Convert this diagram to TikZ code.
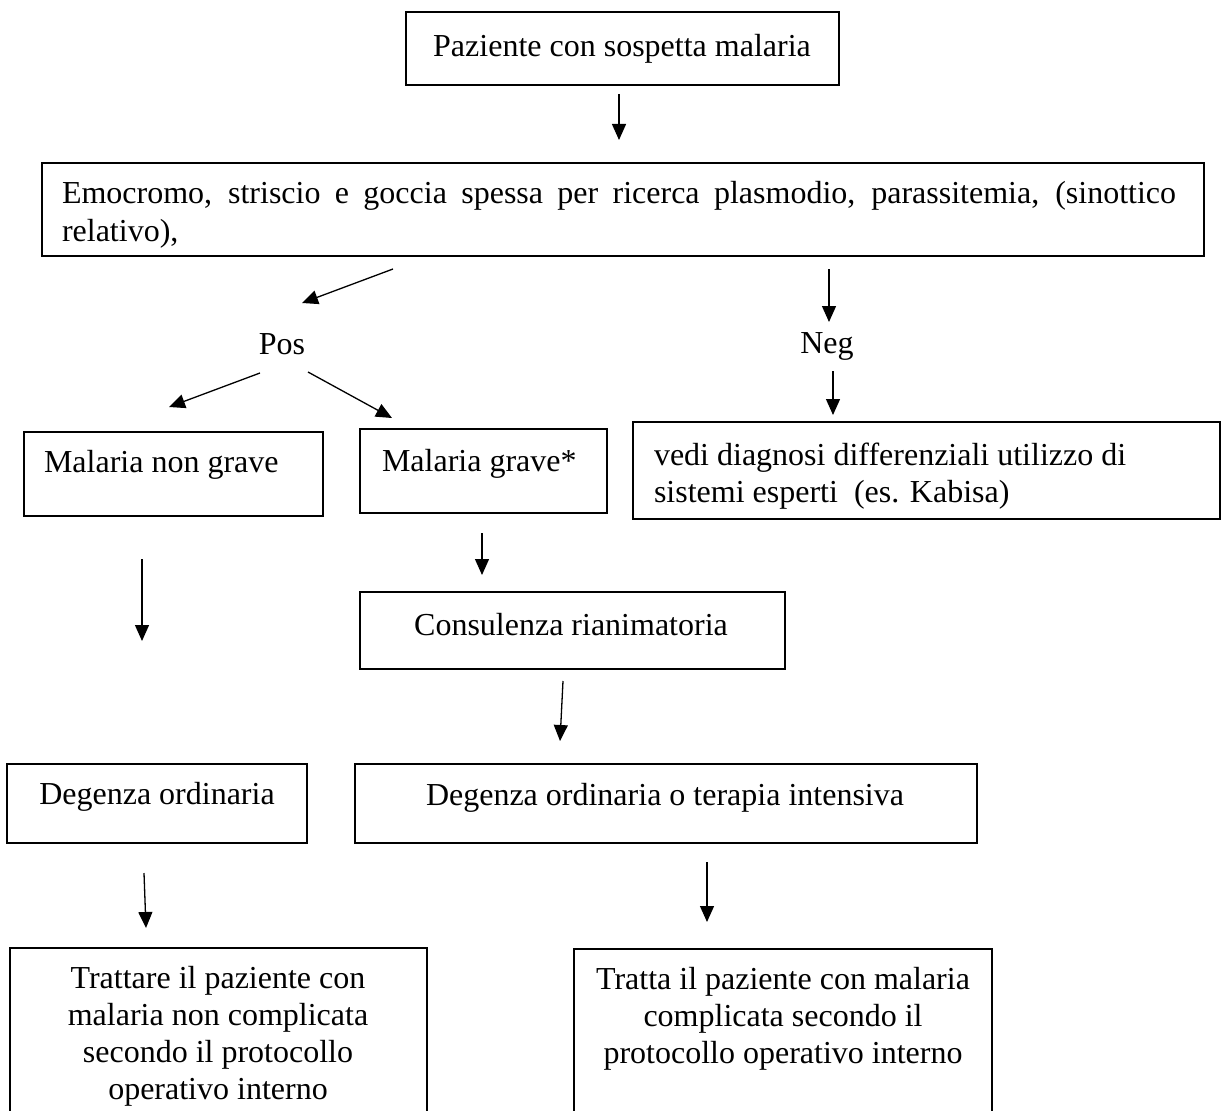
\documentclass[tikz,border=0pt]{standalone}
\usepackage{fontspec}
\setmainfont{Liberation Serif}
\usetikzlibrary{arrows.meta}
\begin{document}
\begin{tikzpicture}[x=1pt,y=-1pt,
  box/.style={draw, line width=1.6pt, inner sep=0pt, outer sep=0pt},
  lbl/.style={inner sep=0pt, outer sep=0pt, font=\fontsize{32}{36.8}\selectfont},
  arr/.style={line width=1.3pt, -{Triangle[length=16pt,width=14pt]}}]
\useasboundingbox (0,0) rectangle (1222,1110);
\fill[white] (0,0) rectangle (1222,1110);
\clip (0,0) rectangle (1222,1110);
% boxes
\node[box, minimum width=433pt, minimum height=73pt] (b1) at (622.5,48.5) {};
\node[box, minimum width=1162pt, minimum height=93pt] (b2) at (623,209.5) {};
\node[box, minimum width=299pt, minimum height=84pt] (bmng) at (173.5,474) {};
\node[box, minimum width=247pt, minimum height=84pt] (bmg) at (483.5,471) {};
\node[box, minimum width=587pt, minimum height=97pt] (bneg) at (926.5,470.5) {};
\node[box, minimum width=425pt, minimum height=77pt] (bcons) at (572.5,630.5) {};
\node[box, minimum width=300pt, minimum height=79pt] (bdor) at (157,803.5) {};
\node[box, minimum width=622pt, minimum height=79pt] (bdot) at (666,803.5) {};
\node[box, minimum width=417pt, minimum height=192pt] (btl) at (218.5,1044) {};
\node[box, minimum width=418pt, minimum height=191pt] (btr) at (783,1044.5) {};
% texts
\node[lbl, anchor=base] (t1) at (622,57) {Paziente con sospetta malaria};
\node[lbl, anchor=base west] (t2a) at (62,204) {\makebox[1114pt][s]{Emocromo, striscio e goccia spessa per ricerca plasmodio, parassitemia, (sinottico}};
\node[lbl, anchor=base west] (t2b) at (62,241) {relativo),};
\node[lbl, anchor=base] (tpos) at (282,354) {Pos};
\node[lbl, anchor=base] (tneg) at (827,353) {Neg};
\node[lbl, anchor=base west] (tmng) at (44,472) {Malaria non grave};
\node[lbl, anchor=base west] (tmg) at (382,471) {Malaria grave*};
\node[lbl, anchor=base west] (tnega) at (654,465) {vedi diagnosi differenziali utilizzo di};
\node[lbl, anchor=base west] (tnegb) at (654,502) {sistemi esperti\ \ (es. Kabisa)};
\node[lbl, anchor=base] (tcons) at (571,635) {Consulenza rianimatoria};
\node[lbl, anchor=base] (tdor) at (157,804) {Degenza ordinaria};
\node[lbl, anchor=base] (tdot) at (665,805) {Degenza ordinaria o terapia intensiva};
\node[lbl, anchor=base] (ttl1) at (218,988) {Trattare il paziente con};
\node[lbl, anchor=base] (ttl2) at (218,1025) {malaria non complicata};
\node[lbl, anchor=base] (ttl3) at (218,1062) {secondo il protocollo};
\node[lbl, anchor=base] (ttl4) at (218,1099) {operativo interno};
\node[lbl, anchor=base] (ttr1) at (783,989) {Tratta il paziente con malaria};
\node[lbl, anchor=base] (ttr2) at (783,1026) {complicata secondo il};
\node[lbl, anchor=base] (ttr3) at (783,1063) {protocollo operativo interno};
% arrow end points
\coordinate (a1s) at (619,94);   \coordinate (a1e) at (619,140);
\coordinate (a2s) at (393,269);  \coordinate (a2e) at (302,303);
\coordinate (a3s) at (829,269);  \coordinate (a3e) at (829,322);
\coordinate (a4s) at (260,373);  \coordinate (a4e) at (169,407);
\coordinate (a5s) at (308,372);  \coordinate (a5e) at (392,418);
\coordinate (a6s) at (833,371);  \coordinate (a6e) at (833,415);
\coordinate (a7s) at (142,559);  \coordinate (a7e) at (142,641);
\coordinate (a8s) at (482,533);  \coordinate (a8e) at (482,575);
\coordinate (a9s) at (563,681);  \coordinate (a9e) at (560,741);
\coordinate (a10s) at (144,873); \coordinate (a10e) at (146,928);
\coordinate (a11s) at (707,862); \coordinate (a11e) at (707,922);
\draw[arr] (a1s) -- (a1e);
\draw[arr] (a2s) -- (a2e);
\draw[arr] (a3s) -- (a3e);
\draw[arr] (a4s) -- (a4e);
\draw[arr] (a5s) -- (a5e);
\draw[arr] (a6s) -- (a6e);
\draw[arr] (a7s) -- (a7e);
\draw[arr] (a8s) -- (a8e);
\draw[arr] (a9s) -- (a9e);
\draw[arr] (a10s) -- (a10e);
\draw[arr] (a11s) -- (a11e);
\end{tikzpicture}
\end{document}
